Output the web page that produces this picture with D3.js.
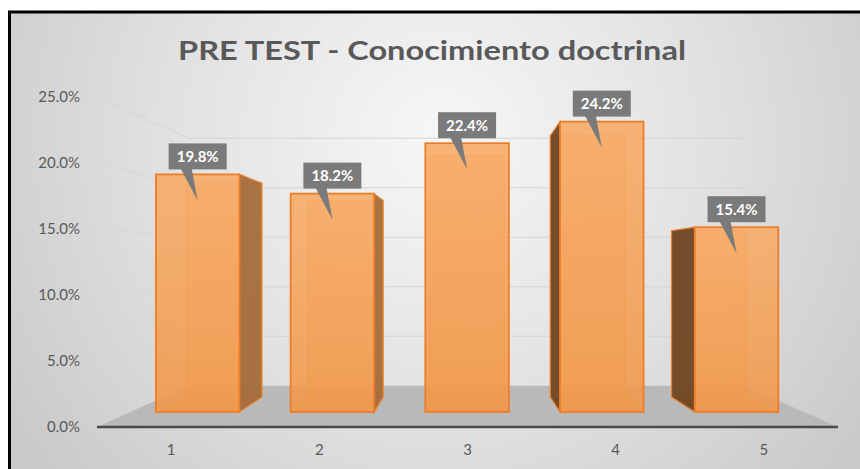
<!DOCTYPE html>
<html>
<head>
<meta charset="utf-8">
<script src="https://cdn.jsdelivr.net/npm/d3@7"></script>
<style>
  body { margin: 0; background: #fff; }
  svg { display: block; }
</style>
</head>
<body>
<div id="container"></div>
<script>
const title = "PRE TEST - Conocimiento doctrinal"
const categories = ["1", "2", "3", "4", "5"]
const values = [0.198, 0.182, 0.224, 0.242, 0.154]
const yTicks = [0, 0.05, 0.10, 0.15, 0.20, 0.25]

const width = 860
const height = 469

// perspective: vanishing point and depth factors
const vp = [463, 262]
const depthWall = 0.75
const depthBarFront = 0.909
const depthBarBack = 0.818

const svg = d3.select("#container").append("svg")
    .attr("width", width)
    .attr("height", height)

const defs = svg.append("defs")

const bg = defs.append("radialGradient")
    .attr("id", "bg")
    .attr("gradientUnits", "userSpaceOnUse")
    .attr("cx", 440).attr("cy", 140).attr("r", 520)
bg.append("stop").attr("offset", "0%").attr("stop-color", "#f7f7f7")
bg.append("stop").attr("offset", "55%").attr("stop-color", "#e0e0e0")
bg.append("stop").attr("offset", "100%").attr("stop-color", "#c9c9c9")

const barGrad = defs.append("linearGradient")
    .attr("id", "barGrad")
    .attr("x1", 0).attr("y1", 0).attr("x2", 0).attr("y2", 1)
barGrad.append("stop").attr("offset", "0%").attr("stop-color", "#f8ab66")
barGrad.append("stop").attr("offset", "100%").attr("stop-color", "#f19849")

// frame
svg.append("rect")
    .attr("x", 9.5).attr("y", 12)
    .attr("width", 870).attr("height", 480)
    .attr("fill", "url(#bg)")
    .attr("stroke", "#000")
    .attr("stroke-width", 3)

const x = d3.scaleBand()
    .domain(categories)
    .range([97, 838])
    .paddingInner(0.38)
    .paddingOuter(0.19)

const y = d3.scaleLinear()
    .domain([0, 0.25])
    .range([427, 97])

function proj(px, py, s) {
    return [vp[0] + s * (px - vp[0]), vp[1] + s * (py - vp[1])]
}

const [x0, x1] = x.range()

// floor
const floor = [proj(x0, y(0), 1), proj(x1, y(0), 1), proj(x1, y(0), depthWall), proj(x0, y(0), depthWall)]
svg.append("polygon")
    .attr("points", floor.map(p => p.join(",")).join(" "))
    .attr("fill", "#b9b9b9")

// back wall gridlines
svg.selectAll(".grid")
    .data(yTicks.filter(t => t > 0))
    .enter()
    .append("line")
    .attr("class", "grid")
    .attr("x1", t => proj(x0, y(t), depthWall)[0])
    .attr("y1", t => proj(x0, y(t), depthWall)[1])
    .attr("x2", t => proj(x1, y(t), depthWall)[0])
    .attr("y2", t => proj(x1, y(t), depthWall)[1])
    .attr("stroke", "#d4d4d4")
    .attr("stroke-width", 1.2)

// left wall lines
svg.selectAll(".wall")
    .data(yTicks.filter(t => t > 0))
    .enter()
    .append("line")
    .attr("class", "wall")
    .attr("x1", t => proj(x0, y(t), 1)[0])
    .attr("y1", t => proj(x0, y(t), 1)[1])
    .attr("x2", t => proj(x0, y(t), depthWall)[0])
    .attr("y2", t => proj(x0, y(t), depthWall)[1])
    .attr("stroke", "#d6d6d6")
    .attr("stroke-width", 1.2)

// axis line
svg.append("line")
    .attr("x1", x0).attr("y1", y(0))
    .attr("x2", x1).attr("y2", y(0))
    .attr("stroke", "#4a4a4a")
    .attr("stroke-width", 2.5)

// y labels
svg.selectAll(".ylab")
    .data(yTicks)
    .enter()
    .append("text")
    .attr("class", "ylab")
    .attr("x", 80)
    .attr("y", t => y(t))
    .attr("dy", "0.35em")
    .attr("text-anchor", "end")
    .attr("font-family", "Lato, 'Open Sans', sans-serif")
    .attr("font-size", 15)
    .attr("fill", "#595959")
    .text(t => d3.format(".1%")(t))

// x labels
svg.selectAll(".xlab")
    .data(categories)
    .enter()
    .append("text")
    .attr("class", "xlab")
    .attr("x", d => x(d) + x.bandwidth() / 2)
    .attr("y", 455)
    .attr("text-anchor", "middle")
    .attr("font-family", "Lato, 'Open Sans', sans-serif")
    .attr("font-size", 15)
    .attr("fill", "#595959")
    .text(d => d)

// bars
const bars = categories.map((c, i) => {
    const bx0 = x(c), bx1 = x(c) + x.bandwidth()
    const top = y(values[i]), bot = y(0)
    return {
        cat: c,
        value: values[i],
        f: [proj(bx0, top, depthBarFront), proj(bx1, bot, depthBarFront)],
        b: [proj(bx0, top, depthBarBack), proj(bx1, bot, depthBarBack)]
    }
})

const g = svg.selectAll(".bar")
    .data(bars)
    .enter()
    .append("g")
    .attr("class", "bar")

// back face
g.append("rect")
    .attr("x", d => d.b[0][0])
    .attr("y", d => d.b[0][1])
    .attr("width", d => d.b[1][0] - d.b[0][0])
    .attr("height", d => d.b[1][1] - d.b[0][1])
    .attr("fill", "#f4a460")
    .attr("fill-opacity", 0.5)
    .attr("stroke", "#f28c3a")
    .attr("stroke-opacity", 0.6)
    .attr("stroke-width", 1.2)

// bottom face
g.append("polygon")
    .attr("points", d => [
        [d.f[0][0], d.f[1][1]], [d.f[1][0], d.f[1][1]],
        [d.b[1][0], d.b[1][1]], [d.b[0][0], d.b[1][1]]
    ].map(p => p.join(",")).join(" "))
    .attr("fill", "#e8914a")
    .attr("fill-opacity", 0.5)

// visible side face
g.filter(d => d.f[1][0] < vp[0] || d.f[0][0] > vp[0])
    .append("polygon")
    .attr("points", d => {
        const k = d.f[1][0] < vp[0] ? 1 : 0
        return [
            [d.f[k][0], d.f[0][1]], [d.b[k][0], d.b[0][1]],
            [d.b[k][0], d.b[1][1]], [d.f[k][0], d.f[1][1]]
        ].map(p => p.join(",")).join(" ")
    })
    .attr("fill", d => d.f[1][0] < vp[0] ? "#a36a3a" : "#6b4322")
    .attr("fill-opacity", 0.92)
    .attr("stroke", "#e8812f")
    .attr("stroke-width", 1.2)

// front face
g.append("rect")
    .attr("x", d => d.f[0][0])
    .attr("y", d => d.f[0][1])
    .attr("width", d => d.f[1][0] - d.f[0][0])
    .attr("height", d => d.f[1][1] - d.f[0][1])
    .attr("fill", "url(#barGrad)")
    .attr("fill-opacity", 0.88)
    .attr("stroke", "#ee7d2a")
    .attr("stroke-width", 1.8)

// data label callouts
const labelW = 58, labelH = 26
const lab = g.append("g")
    .attr("transform", d => {
        const cx = (d.f[0][0] + d.f[1][0]) / 2
        return `translate(${cx},${d.f[0][1] - 5})`
    })

lab.append("polygon")
    .attr("points", "-17,-1 -6,-1 0,31")
    .attr("fill", "#7a7a7a")

lab.append("rect")
    .attr("x", -labelW / 2)
    .attr("y", -labelH)
    .attr("width", labelW)
    .attr("height", labelH)
    .attr("fill", "#7a7a7a")

lab.append("text")
    .attr("x", 0)
    .attr("y", -labelH / 2)
    .attr("dy", "0.36em")
    .attr("text-anchor", "middle")
    .attr("font-family", "Lato, 'Open Sans', sans-serif")
    .attr("font-weight", "bold")
    .attr("font-size", 15)
    .attr("fill", "#fff")
    .text(d => d3.format(".1%")(d.value))

// title
svg.append("text")
    .attr("x", 432)
    .attr("y", 60)
    .attr("text-anchor", "middle")
    .attr("font-family", "Lato, 'Open Sans', sans-serif")
    .attr("font-weight", "bold")
    .attr("font-size", 26)
    .attr("textLength", 508)
    .attr("lengthAdjust", "spacingAndGlyphs")
    .attr("fill", "#595959")
    .text(title)
</script>
</body>
</html>
